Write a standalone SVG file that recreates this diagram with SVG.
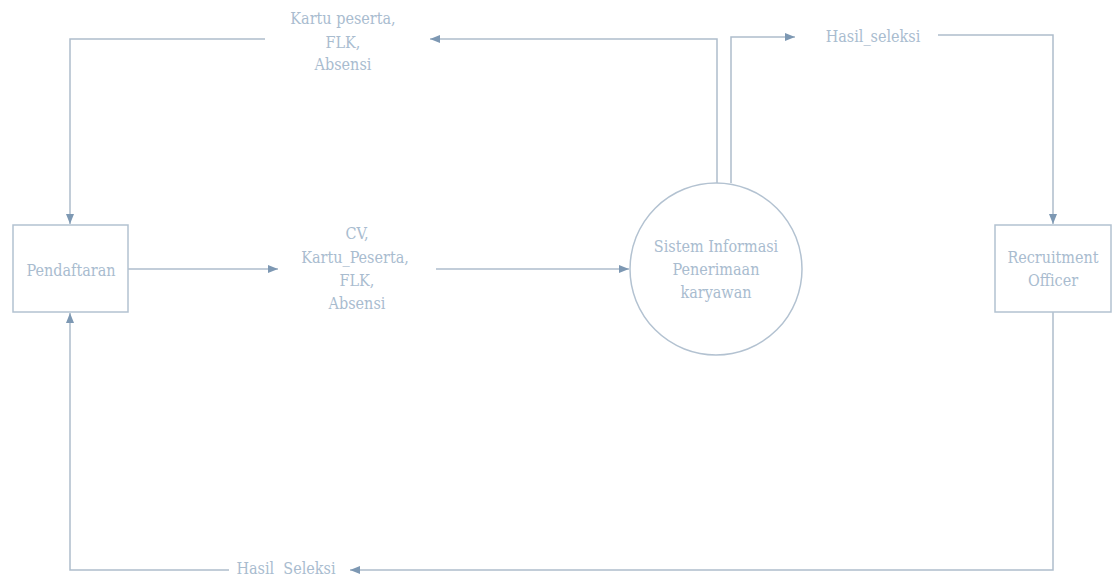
<svg xmlns="http://www.w3.org/2000/svg" width="1115" height="576" viewBox="0 0 1115 576">
<defs>
<style>
.n{fill:#fff;stroke:#b3c2d1;stroke-width:1.5}
.c{fill:none;stroke:#aebdcc;stroke-width:1.5}
.t{font-family:'DejaVu Serif Condensed','DejaVu Serif','Liberation Serif',serif;font-stretch:condensed;font-size:16px;fill:#a9bccf;text-anchor:middle}
</style>
<marker id="ah" viewBox="0 0 10 10" refX="10" refY="5" markerWidth="10" markerHeight="10" markerUnits="userSpaceOnUse" orient="auto">
<path d="M0,1 L10,5 L0,9 Z" fill="#7d98b3"/>
</marker>
</defs>
<rect width="1115" height="576" fill="#fff"/>
<g id="connectors">
<path class="c" d="M265,39 H70 V224" marker-end="url(#ah)"/>
<path class="c" d="M717,183 V39 H430" marker-end="url(#ah)"/>
<path class="c" d="M731,183 V37 H795" marker-end="url(#ah)"/>
<path class="c" d="M938,35 H1053 V224" marker-end="url(#ah)"/>
<path class="c" d="M128,269 H278" marker-end="url(#ah)"/>
<path class="c" d="M436,269 H629" marker-end="url(#ah)"/>
<path class="c" d="M1053,312 V570 H350" marker-end="url(#ah)"/>
<path class="c" d="M229,570 H70 V313" marker-end="url(#ah)"/>
<g class="t">
<text x="343" y="24">Kartu peserta,</text>
<text x="343" y="48">FLK,</text>
<text x="343" y="70">Absensi</text>
<text x="873" y="42">Hasil_seleksi</text>
<text x="357" y="239">CV,</text>
<text x="355" y="263">Kartu_Peserta,</text>
<text x="357" y="286">FLK,</text>
<text x="357" y="309">Absensi</text>
<text x="286" y="574" xml:space="preserve" style="white-space:pre">Hasil  Seleksi</text>
</g>
</g>
<g id="pendaftaran">
<rect class="n" x="13" y="225" width="115" height="87"/>
<text class="t" x="71" y="276">Pendaftaran</text>
</g>
<g id="sistem">
<circle class="n" cx="716" cy="269" r="86"/>
<g class="t">
<text x="716" y="252">Sistem Informasi</text>
<text x="716" y="275">Penerimaan</text>
<text x="716" y="298">karyawan</text>
</g>
</g>
<g id="recruitment">
<rect class="n" x="995" y="225" width="116" height="87"/>
<g class="t">
<text x="1053" y="263">Recruitment</text>
<text x="1053" y="286">Officer</text>
</g>
</g>
</svg>
